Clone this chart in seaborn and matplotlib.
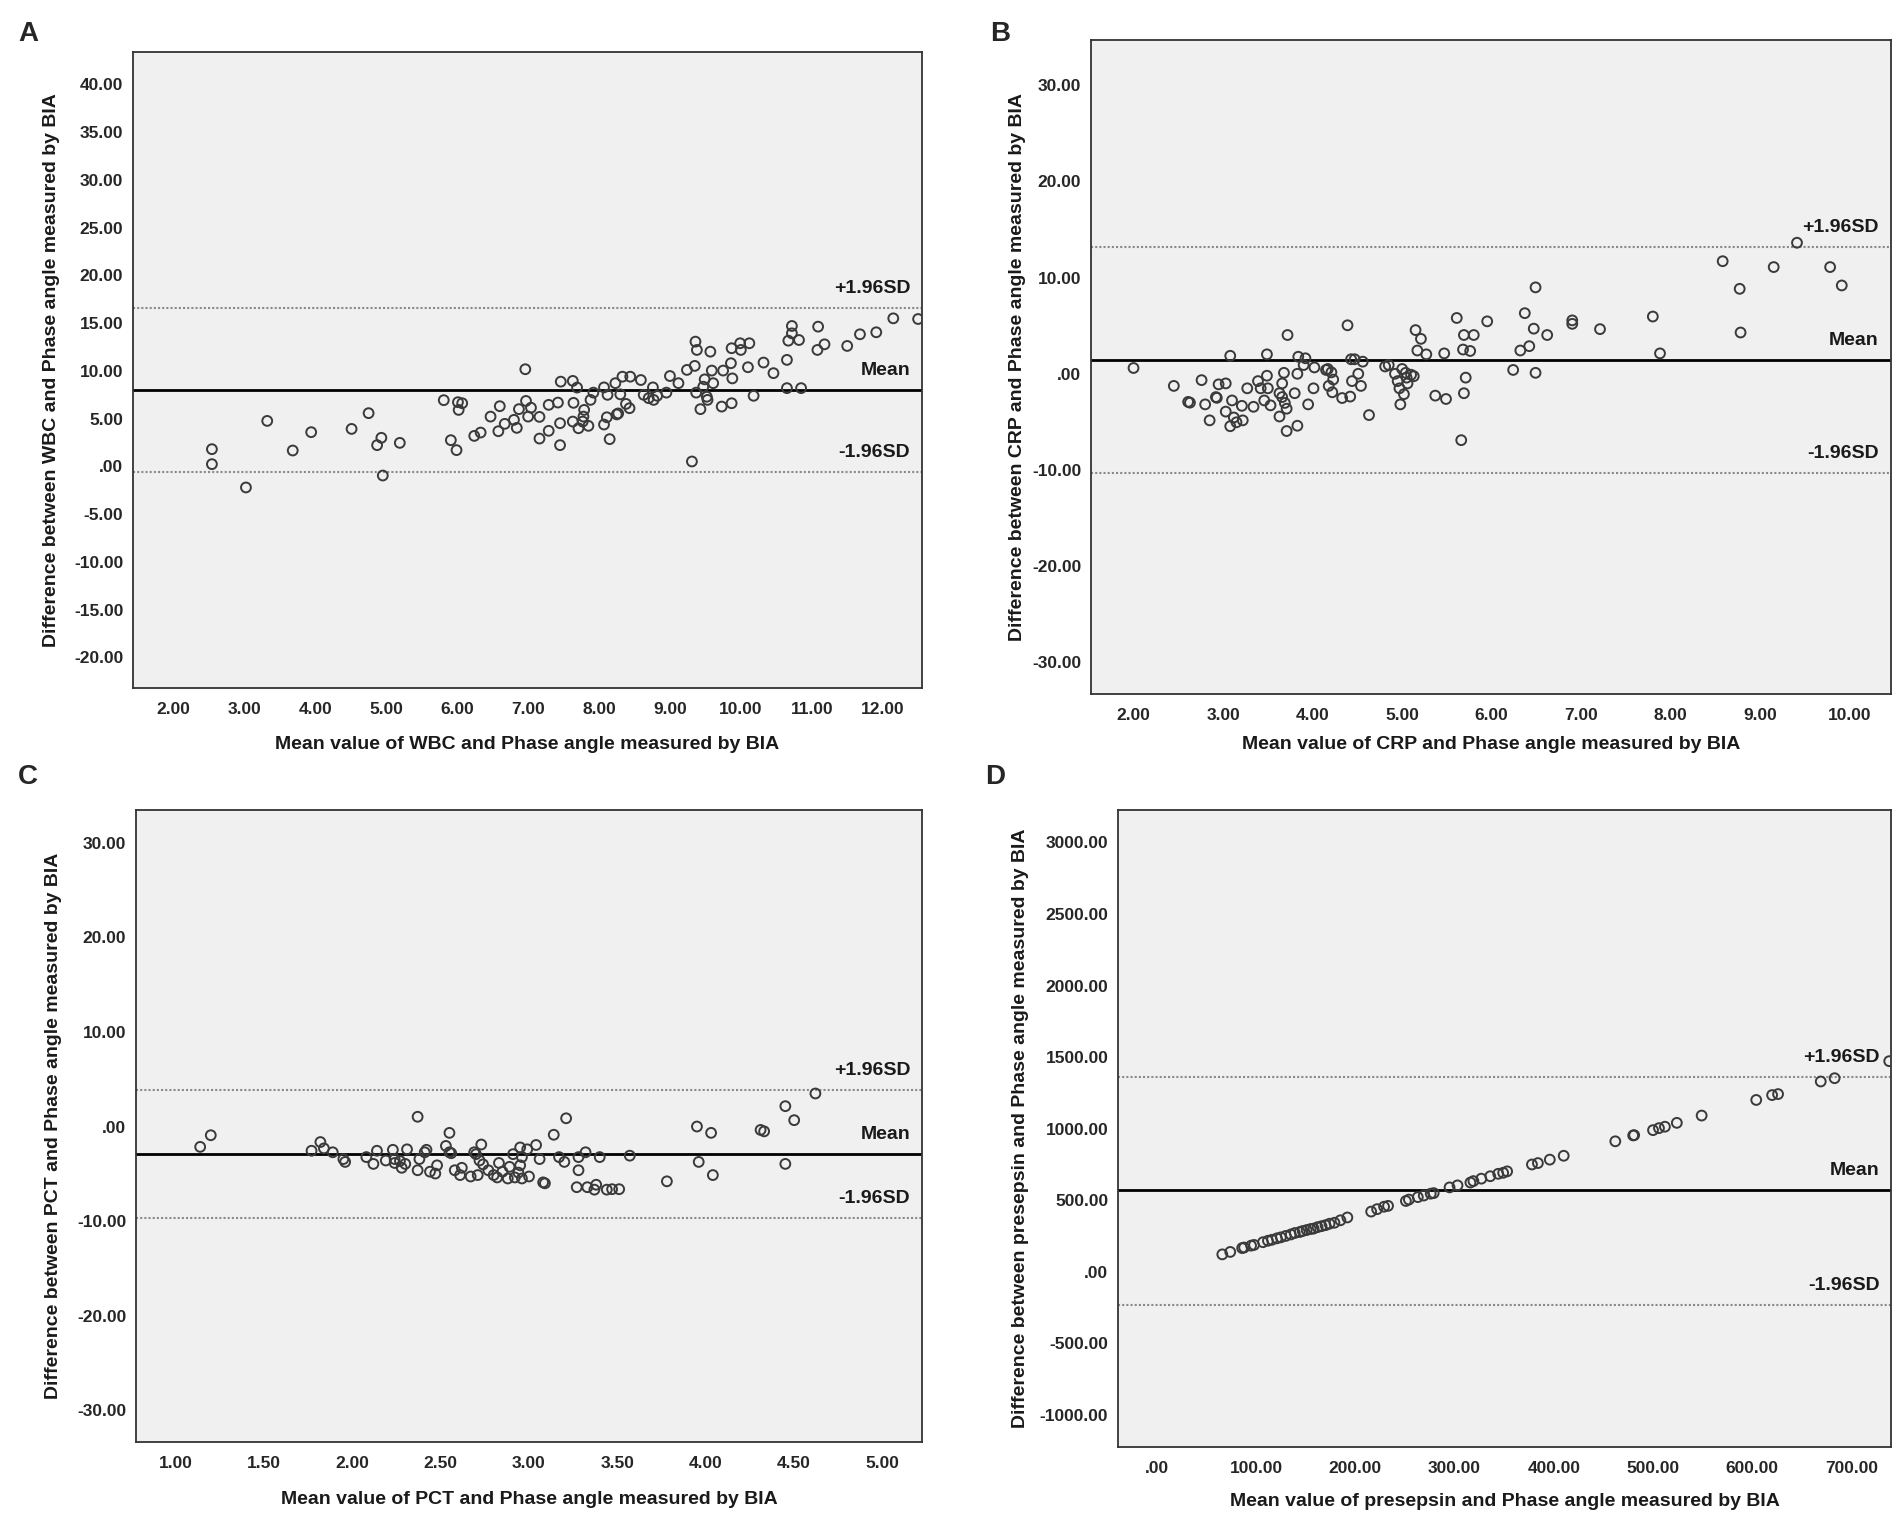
import matplotlib
matplotlib.use("Agg")
import matplotlib.pyplot as plt
import seaborn as sns

sns.set_style("white")
plt.rcParams["font.family"] = ["Liberation Sans", "DejaVu Sans"]
plt.rcParams["font.weight"] = "bold"

# ---------------- Panel A: WBC ----------------
a_x = [2.54, 2.54, 3.02, 3.32, 3.68, 3.94, 4.51, 4.75, 4.93, 4.87,
       4.95, 5.19, 5.81, 5.91, 5.99, 6.01, 6.07, 6.02, 6.24, 6.33,
       6.47, 6.60, 6.58, 6.67, 6.80, 6.84, 6.87, 6.96, 6.97, 7.00,
       7.04, 7.16, 7.16, 7.29, 7.29, 7.42, 7.45, 7.45, 7.46,
       7.63, 7.69, 7.64, 7.63, 7.71, 7.79, 7.78, 7.77, 7.85, 7.88,
       7.92, 8.07, 8.07, 8.12, 8.11, 8.15, 8.23, 8.25, 8.27, 8.30,
       8.33, 8.38, 8.44, 8.43, 8.59, 8.63, 8.70, 8.76, 8.77, 8.82,
       8.95, 9.00, 9.12, 9.24, 9.31, 9.35, 9.36, 9.38, 9.37, 9.43,
       9.47, 9.49, 9.52, 9.53, 9.57, 9.59, 9.61, 9.73, 9.75, 9.86,
       9.87, 9.88, 9.87, 9.99, 10.00, 10.12, 10.10, 10.18, 10.32, 10.46,
       10.65, 10.65, 10.67, 10.72, 10.72, 10.82, 10.85, 11.09, 11.08, 11.18,
       11.50, 11.68, 11.91, 12.15, 12.50]
a_y = [1.81, 0.24, -2.20, 4.77, 1.67, 3.59, 3.93, 5.58, 3.00, 2.23,
       -0.95, 2.47, 6.94, 2.75, 1.71, 6.73, 6.62, 5.92, 3.20, 3.55,
       5.22, 6.31, 3.69, 4.46, 4.88, 4.04, 6.00, 10.18, 6.86, 5.22,
       6.15, 5.19, 2.92, 6.45, 3.73, 6.69, 4.53, 2.23, 8.88,
       8.96, 8.26, 6.66, 4.70, 4.00, 5.92, 5.22, 4.70, 4.25, 6.97,
       7.73, 8.28, 4.39, 7.50, 5.15, 2.86, 8.72, 5.45, 5.55, 7.55,
       9.40, 6.55, 9.40, 6.10, 9.05, 7.50, 7.15, 8.28, 6.97, 7.40,
       7.73, 9.47, 8.72, 10.11, 0.52, 10.53, 13.07, 12.20, 7.73, 6.00,
       8.35, 9.12, 7.30, 6.97, 12.02, 10.04, 8.72, 6.27, 10.04, 10.81,
       6.62, 9.22, 12.38, 12.90, 12.20, 12.90, 10.39, 7.40, 10.88, 9.77,
       11.16, 8.20, 13.17, 14.71, 13.94, 13.24, 8.20, 14.64, 12.20, 12.79,
       12.62, 13.84, 14.05, 15.51, 15.44]
a_lines = [16.56, 8.02, -0.63]  # +1.96SD, mean, -1.96SD
a_xticks = [2, 3, 4, 5, 6, 7, 8, 9, 10, 11, 12]
a_yticks = [40, 35, 30, 25, 20, 15, 10, 5, 0, -5, -10, -15, -20]

# ---------------- Panel B: CRP ----------------
b_x = [2.00, 2.45, 2.61, 2.63, 2.76, 2.80, 2.85, 2.92, 2.93, 2.95,
       3.03, 3.03, 3.08, 3.10, 3.08, 3.12, 3.15, 3.21, 3.22, 3.27,
       3.34, 3.39, 3.42, 3.46, 3.49, 3.49, 3.50, 3.53, 3.63, 3.66,
       3.63, 3.66, 3.68, 3.72, 3.69, 3.71, 3.71, 3.80, 3.83, 3.84,
       3.83, 3.90, 3.92, 3.95, 4.01, 4.02, 4.15, 4.17, 4.18, 4.21,
       4.22, 4.23, 4.33, 4.39, 4.42, 4.43, 4.44, 4.47, 4.51, 4.54,
       4.56, 4.63, 4.81, 4.85, 4.92, 4.95, 4.97, 4.98, 5.00, 5.02,
       5.04, 5.05, 5.06, 5.10, 5.13, 5.15, 5.17, 5.21, 5.27, 5.37,
       5.47, 5.49, 5.61, 5.66, 5.68, 5.69, 5.69, 5.71, 5.76, 5.80,
       5.95, 6.24, 6.32, 6.37, 6.42, 6.47, 6.49, 6.49, 6.62, 6.90,
       6.90, 7.21, 7.80, 7.88, 8.58, 8.77, 8.78, 9.15, 9.41, 9.78,
       9.91]
b_y = [0.60, -1.26, -2.92, -3.00, -0.66, -3.18, -4.84, -2.42, -2.50, -1.10,
       -1.00, -3.93, 1.87, -2.77, -5.45, -4.54, -5.04, -3.33, -4.84, -1.51,
       -3.43, -0.76, -1.51, -2.77, -0.20, 2.02, -1.51, -3.28, -2.02, -1.00,
       -4.44, -2.42, 0.10, 4.03, -3.03, -3.63, -5.95, -2.02, 0.00, 1.77,
       -5.40, 0.91, 1.61, -3.18, -1.51, 0.66, 0.40, 0.50, -1.26, 0.15,
       -1.92, -0.60, -2.52, 5.04, -2.37, 1.51, -0.76, 1.51, 0.00, -1.26,
       1.26, -4.29, 0.76, 0.91, 0.00, -0.76, -1.51, -3.18, 0.50, -2.12,
       0.10, -0.40, -1.00, -0.10, -0.25, 4.54, 2.42, 3.63, 2.02, -2.27,
       2.12, -2.62, 5.80, -6.90, 2.52, 4.03, -2.02, -0.40, 2.37, 4.03,
       5.45, 0.40, 2.42, 6.30, 2.87, 4.69, 8.98, 0.10, 4.03, 5.19,
       5.55, 4.64, 5.95, 2.12, 11.70, 8.83, 4.29, 11.09, 13.62, 11.09,
       9.18]
b_lines = [13.2, 1.41, -10.3]
b_xticks = [2, 3, 4, 5, 6, 7, 8, 9, 10]
b_yticks = [30, 20, 10, 0, -10, -20, -30]

# ---------------- Panel C: PCT ----------------
c_x = [1.14, 1.20, 1.77, 1.82, 1.84, 1.89, 1.95, 1.96, 2.08, 2.12,
       2.14, 2.19, 2.23, 2.24, 2.24, 2.27, 2.28, 2.30, 2.31, 2.37,
       2.37, 2.38, 2.41, 2.42, 2.44, 2.47, 2.48, 2.53, 2.55, 2.55,
       2.56, 2.58, 2.61, 2.62, 2.67, 2.69, 2.70, 2.71, 2.72, 2.73,
       2.74, 2.77, 2.80, 2.82, 2.83, 2.85, 2.88, 2.89, 2.91, 2.92,
       2.94, 2.95, 2.95, 2.96, 2.96, 2.99, 3.00, 3.04, 3.06, 3.08,
       3.09, 3.14, 3.17, 3.20, 3.21, 3.27, 3.28, 3.28, 3.32, 3.33,
       3.37, 3.38, 3.40, 3.44, 3.47, 3.51, 3.57, 3.78, 3.95, 3.96,
       4.03, 4.04, 4.31, 4.33, 4.45, 4.45, 4.50, 4.62]
c_y = [-2.15, -0.92, -2.56, -1.64, -2.31, -2.72, -3.44, -3.74, -3.23, -3.95,
       -2.56, -3.59, -2.46, -3.44, -3.85, -3.64, -4.36, -3.95, -2.41, -4.62,
       1.03, -3.44, -2.72, -2.46, -4.77, -4.97, -4.10, -2.05, -0.67, -2.72,
       -2.82, -4.62, -5.13, -4.36, -5.28, -2.72, -2.92, -5.13, -3.59, -1.90,
       -4.00, -4.62, -5.13, -5.38, -3.85, -4.77, -5.49, -4.26, -2.92, -5.38,
       -4.87, -4.10, -2.21, -3.23, -5.49, -2.41, -5.28, -1.95, -3.44, -5.90,
       -6.00, -0.87, -3.23, -3.74, 0.87, -6.41, -4.62, -3.23, -2.72, -6.41,
       -6.67, -6.15, -3.23, -6.67, -6.62, -6.62, -3.08, -5.79, 0.00, -3.74,
       -0.67, -5.13, -0.36, -0.51, 2.15, -3.95, 0.67, 3.49]
c_lines = [3.85, -2.92, -9.64]
c_xticks = [1.0, 1.5, 2.0, 2.5, 3.0, 3.5, 4.0, 4.5, 5.0]
c_yticks = [30, 20, 10, 0, -10, -20, -30]

# ---------------- Panel D: presepsin ----------------
d_x = [66, 74, 86, 88, 95, 98, 107, 112, 116, 121,
       125, 130, 135, 139, 144, 147, 151, 155, 158, 162,
       166, 170, 174, 179, 185, 192, 216, 222, 229, 233,
       251, 254, 263, 269, 276, 279, 295, 303, 316, 319,
       327, 336, 344, 349, 353, 378, 384, 396, 410, 462,
       480, 481, 500, 506, 512, 524, 549, 604, 620, 626,
       669, 683, 738]
d_y = [122, 139, 166, 170, 183, 188, 207, 217, 224, 234,
       241, 251, 261, 271, 278, 285, 292, 299, 302, 312,
       319, 326, 336, 343, 360, 380, 421, 438, 455, 461,
       495, 505, 522, 533, 546, 550, 590, 604, 624, 634,
       651, 668, 685, 692, 702, 750, 760, 784, 811, 912,
       953, 955, 990, 1004, 1014, 1041, 1092, 1201, 1235, 1242,
       1330, 1353, 1472]
d_lines = [1364, 570, -234]
d_xticks = [0, 100, 200, 300, 400, 500, 600, 700]
d_yticks = [3000, 2500, 2000, 1500, 1000, 500, 0, -500, -1000]

W, H = 1904, 1521


def spss(v):
    s = f"{v:.2f}"
    if s.startswith("0."):
        s = s[1:]
    elif s.startswith("-0."):
        s = "-" + s[2:]
    return s


def panel(rect, letter, letter_xy, x, y, lines, xticks, yticks, xlim, ylim,
          marker, ylab_x, xlab_y):
    left, top, right, bottom = rect
    ax = fig.add_axes([left / W, 1 - bottom / H, (right - left) / W, (bottom - top) / H])
    ax.set_facecolor("#f0f0f0")
    sns.scatterplot(x=x, y=y, ax=ax, marker="o", s=50, facecolors="none",
                    edgecolor="#3a3a3a", linewidth=1.4, zorder=3)
    ax.axhline(lines[0], color="#8a8a8a", lw=1.5, ls=(0, (1, 1)), zorder=2)
    ax.axhline(lines[1], color="black", lw=2.0, zorder=2)
    ax.axhline(lines[2], color="#8a8a8a", lw=1.5, ls=(0, (1, 1)), zorder=2)
    for val, txt in zip(lines, ["+1.96SD", "Mean", "-1.96SD"]):
        ax.annotate(txt, xy=(0.985, val), xycoords=("axes fraction", "data"),
                    xytext=(0, 8), textcoords="offset points", ha="right",
                    va="bottom", fontsize=14, fontweight="bold", color="#1a1a1a")
    ax.set_xlim(*xlim)
    ax.set_ylim(*ylim)
    ax.set_xticks(xticks)
    ax.set_xticklabels([spss(v) for v in xticks], fontsize=12.5, fontweight="bold")
    ax.set_yticks(yticks)
    ax.set_yticklabels([spss(v) for v in yticks], fontsize=12.5, fontweight="bold")
    ax.tick_params(axis="y", direction="out", length=6, width=1.3, pad=1, color="#333333")
    ax.tick_params(axis="x", direction="out", length=6, width=1.3, pad=4, color="#333333")
    for sp in ax.spines.values():
        sp.set_color("#333333")
        sp.set_linewidth(1.3)
    ax.set_xlabel(f"Mean value of {marker} and Phase angle measured by BIA",
                  fontsize=14, fontweight="bold", color="#1a1a1a")
    ax.set_ylabel(f"Difference between {marker} and Phase angle measured by BIA",
                  fontsize=14, fontweight="bold", color="#1a1a1a")
    # label anchors sit on the label edge, so shift by half a label height
    ax.yaxis.set_label_coords((ylab_x + 9 - left) / (right - left), 0.5)
    ax.xaxis.set_label_coords(0.5, -(xlab_y - 9 - bottom) / (bottom - top))
    fig.text(letter_xy[0] / W, 1 - letter_xy[1] / H, letter, fontsize=20,
             fontweight="bold", ha="left", va="center")
    return ax


fig = plt.figure(figsize=(W / 100, H / 100), dpi=100)

panel((133, 52, 922, 688), "A", (18, 34), a_x, a_y, a_lines, a_xticks, a_yticks,
      (1.427, 12.555), (-23.2, 43.4), "WBC", 51, 745)
panel((1091, 40, 1891, 694), "B", (990, 34), b_x, b_y, b_lines, b_xticks, b_yticks,
      (1.525, 10.46), (-33.28, 34.69), "CRP", 1017, 745)
panel((136, 810, 922, 1442), "C", (18, 777), c_x, c_y, c_lines, c_xticks, c_yticks,
      (0.777, 5.223), (-33.33, 33.44), "PCT", 53, 1500)
panel((1118, 810, 1891, 1447), "D", (985, 777), d_x, d_y, d_lines, d_xticks, d_yticks,
      (-39.1, 739.8), (-1224, 3227), "presepsin", 1020, 1502)

fig.savefig("out.png", dpi=100, facecolor="white")
